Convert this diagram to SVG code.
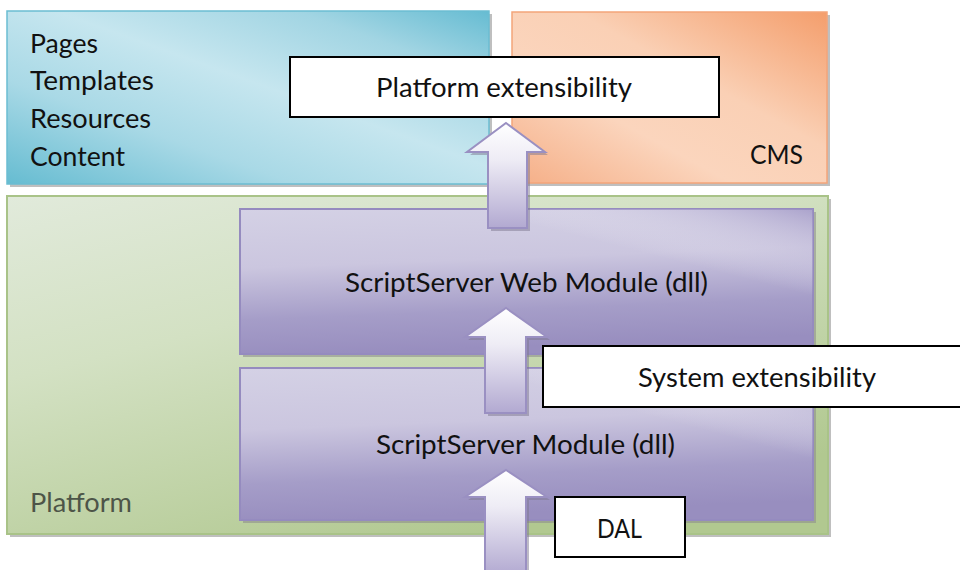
<svg xmlns="http://www.w3.org/2000/svg" width="960" height="570" viewBox="0 0 960 570">
<style>
.shadow{fill:#8a8a8a;opacity:0.55}
.lbl{fill:#ffffff;stroke:#000000;stroke-width:2}
.t{font-family:Lato,"Open Sans","Liberation Sans",sans-serif;font-size:27.5px;fill:#111111}
.arrow{fill:url(#gArrow);stroke:#9a90c2;stroke-width:2;stroke-linejoin:miter}
.ashadow{fill:#7d7890;opacity:0.5}
</style>
<defs>
<linearGradient id="gBlue" x1="0" y1="1" x2="1" y2="0">
<stop offset="0" stop-color="#66bcd1"/>
<stop offset="0.3" stop-color="#a9d9e6"/>
<stop offset="0.55" stop-color="#c6e6ef"/>
<stop offset="0.8" stop-color="#a2d5e3"/>
<stop offset="1" stop-color="#66bcd2"/>
</linearGradient>
<linearGradient id="gOrange" x1="0" y1="1" x2="1" y2="0">
<stop offset="0" stop-color="#f5ae86"/>
<stop offset="0.35" stop-color="#fbd5bd"/>
<stop offset="0.6" stop-color="#fad0b5"/>
<stop offset="1" stop-color="#f49e6c"/>
</linearGradient>
<linearGradient id="gGreen" x1="0" y1="0" x2="0.6" y2="1">
<stop offset="0" stop-color="#e1eadb"/>
<stop offset="0.4" stop-color="#d3e1c3"/>
<stop offset="1" stop-color="#b1c890"/>
</linearGradient>
<linearGradient id="gPurple" x1="0" y1="0" x2="0.15" y2="1">
<stop offset="0" stop-color="#d4d1e5"/>
<stop offset="0.4" stop-color="#cbc6df"/>
<stop offset="0.75" stop-color="#a59dc8"/>
<stop offset="1" stop-color="#988ebf"/>
</linearGradient>
<linearGradient id="gPurpleGloss" x1="1" y1="0" x2="0" y2="1">
<stop offset="0" stop-color="#9a90c2" stop-opacity="0.7"/>
<stop offset="0.3" stop-color="#ffffff" stop-opacity="0"/>
<stop offset="1" stop-color="#ffffff" stop-opacity="0"/>
</linearGradient>
<linearGradient id="gArrow" x1="0" y1="0" x2="0" y2="1">
<stop offset="0" stop-color="#ffffff"/>
<stop offset="0.35" stop-color="#eeecf5"/>
<stop offset="1" stop-color="#b2a9d1"/>
</linearGradient>
</defs>

<g id="content-layer">
<rect class="shadow" x="10" y="14" width="482" height="173"/>
<rect x="7" y="11" width="482" height="173" fill="url(#gBlue)" stroke="#6bbdd2" stroke-width="1.5"/>
<text class="t" x="30" y="53" textLength="68" lengthAdjust="spacingAndGlyphs">Pages</text>
<text class="t" x="30" y="90" textLength="124" lengthAdjust="spacingAndGlyphs">Templates</text>
<text class="t" x="30" y="128" textLength="121" lengthAdjust="spacingAndGlyphs">Resources</text>
<text class="t" x="30" y="166" textLength="95" lengthAdjust="spacingAndGlyphs">Content</text>
</g>

<g id="cms">
<rect class="shadow" x="515" y="15" width="315" height="171"/>
<rect x="512" y="12" width="315" height="171" fill="url(#gOrange)" stroke="#f4a57a" stroke-width="1.5"/>
<text class="t" x="750" y="164" textLength="53" lengthAdjust="spacingAndGlyphs">CMS</text>
</g>

<g id="platform">
<rect class="shadow" x="10" y="199" width="821" height="338"/>
<rect x="7" y="196" width="821" height="338" fill="url(#gGreen)" stroke="#a9c388" stroke-width="2"/>
<text class="t" x="30" y="512" textLength="102" lengthAdjust="spacingAndGlyphs" style="fill:#4d5548">Platform</text>
</g>

<g id="web-module">
<rect class="shadow" x="243" y="212" width="573" height="145"/>
<rect x="240" y="209" width="573" height="145" fill="url(#gPurple)" stroke="#958bbf" stroke-width="2"/>
<rect x="240" y="209" width="573" height="145" fill="url(#gPurpleGloss)"/>
<text class="t" x="345" y="292" textLength="363" lengthAdjust="spacingAndGlyphs">ScriptServer Web Module (dll)</text>
</g>

<g id="module">
<rect class="shadow" x="243" y="371" width="573" height="152"/>
<rect x="240" y="368" width="573" height="152" fill="url(#gPurple)" stroke="#958bbf" stroke-width="2"/>
<rect x="240" y="368" width="573" height="152" fill="url(#gPurpleGloss)"/>
<text class="t" x="376" y="454" textLength="299" lengthAdjust="spacingAndGlyphs">ScriptServer Module (dll)</text>
</g>

<g id="connectors">
<polygon class="ashadow" points="509,126 548,155 530,155 530,231 491,231 491,155 470,155"/>
<polygon class="arrow" points="506,123 545,152 527,152 527,228 488,228 488,152 467,152"/>
<polygon class="ashadow" points="509,311 550,340 529,340 529,416 488,416 488,340 468,340"/>
<polygon class="arrow" points="506,308 547,337 526,337 526,413 485,413 485,337 465,337"/>
<polygon class="ashadow" points="509,473 550,500 529,500 529,575 488,575 488,500 468,500"/>
<polygon class="arrow" points="506,470 547,497 526,497 526,575 485,575 485,497 465,497"/>
</g>

<g id="platform-extensibility">
<rect class="lbl" x="290" y="57" width="429" height="60"/>
<text class="t" x="376" y="97" textLength="256" lengthAdjust="spacingAndGlyphs">Platform extensibility</text>
</g>

<g id="system-extensibility">
<rect class="lbl" x="543" y="346" width="420" height="61"/>
<text class="t" x="638" y="387" textLength="238" lengthAdjust="spacingAndGlyphs">System extensibility</text>
</g>

<g id="dal">
<rect class="lbl" x="555" y="497" width="130" height="60"/>
<text class="t" x="597" y="538" textLength="45" lengthAdjust="spacingAndGlyphs">DAL</text>
</g>
</svg>
